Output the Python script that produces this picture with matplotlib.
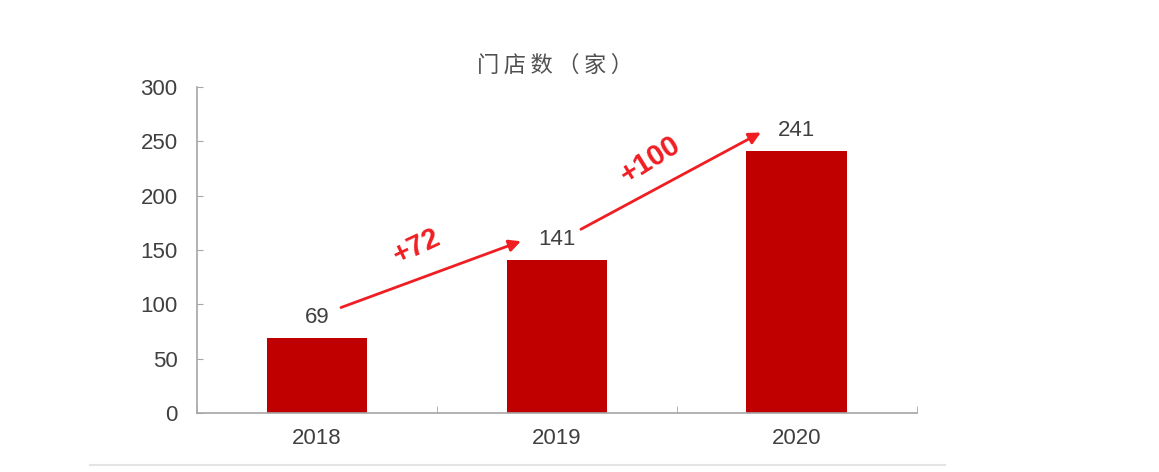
import matplotlib
matplotlib.use("Agg")
import matplotlib.pyplot as plt
from matplotlib.lines import Line2D

plt.rcParams['font.family'] = ['Liberation Sans', 'Noto Sans CJK SC', 'DejaVu Sans']

# Store counts per year
years = ["2018", "2019", "2020"]
stores = [69, 141, 241]
yticks = [0, 50, 100, 150, 200, 250, 300]
title = "门店数（家）"

bar_color = "#C00000"
arrow_color = "#F01E23"
axis_color = "#A6A6A6"
text_color = "#404040"

fig = plt.figure(figsize=(11.59, 4.72), dpi=100)
ax = fig.add_axes([0.170, 0.125, 0.621, 0.691])

x = list(range(len(years)))
ax.bar(x, stores, width=0.42, color=bar_color, zorder=2)

ax.set_xlim(-0.5, len(years) - 0.5)
ax.set_ylim(0, 300)

# Value labels above each bar
for xi, v in zip(x, stores):
    ax.annotate(str(v), (xi, v), xytext=(0, 7), textcoords="offset points",
                ha="center", va="bottom", fontsize=16, color=text_color)

# Growth arrows between consecutive years
rotations = [25, 32]
label_dx = [-0.06, -0.085]
label_dy = [26, 19]
for i in range(len(stores) - 1):
    start = (i + 0.10, stores[i] + 28)
    end = (i + 0.85, stores[i + 1] + 17)
    ax.annotate("", xy=end, xytext=start,
                arrowprops=dict(arrowstyle="-|>,head_length=0.7,head_width=0.35",
                                color=arrow_color, lw=2, shrinkA=0, shrinkB=0))
    diff = stores[i + 1] - stores[i]
    mx = (start[0] + end[0]) / 2 + label_dx[i]
    my = (start[1] + end[1]) / 2 + label_dy[i]
    ax.text(mx, my, f"+{diff}", ha="center", va="center", rotation=rotations[i],
            fontsize=21, fontweight="bold", color=arrow_color)

# Axes styling
for side in ("top", "right"):
    ax.spines[side].set_visible(False)
for side in ("left", "bottom"):
    ax.spines[side].set_color(axis_color)
    ax.spines[side].set_linewidth(1.2)

ax.set_yticks(yticks)
ax.set_yticklabels([str(t) for t in yticks])
ax.tick_params(axis="y", direction="in", length=4, color=axis_color,
               labelsize=16, labelcolor=text_color, pad=14)

ax.set_xticks(x)
ax.set_xticklabels(years)
ax.tick_params(axis="x", which="major", length=0, labelsize=16,
               labelcolor=text_color, pad=11)
ax.set_xticks([-0.5, 0.5, 1.5, 2.5], minor=True)
ax.tick_params(axis="x", which="minor", direction="in", length=5,
               color=axis_color)

spaced_title = "\u2009".join(title)
fig.text(0.479, 0.862, spaced_title, ha="center", va="center", fontsize=16,
         color="#505050", family=['Noto Sans CJK SC', 'DejaVu Sans'])

# Thin frame line along the bottom of the panel
fig.add_artist(Line2D([0.078, 0.815], [0.015, 0.015], transform=fig.transFigure,
                      color="#E4E4E4", lw=1.5))

fig.savefig("out.png", dpi=100, facecolor="white")
